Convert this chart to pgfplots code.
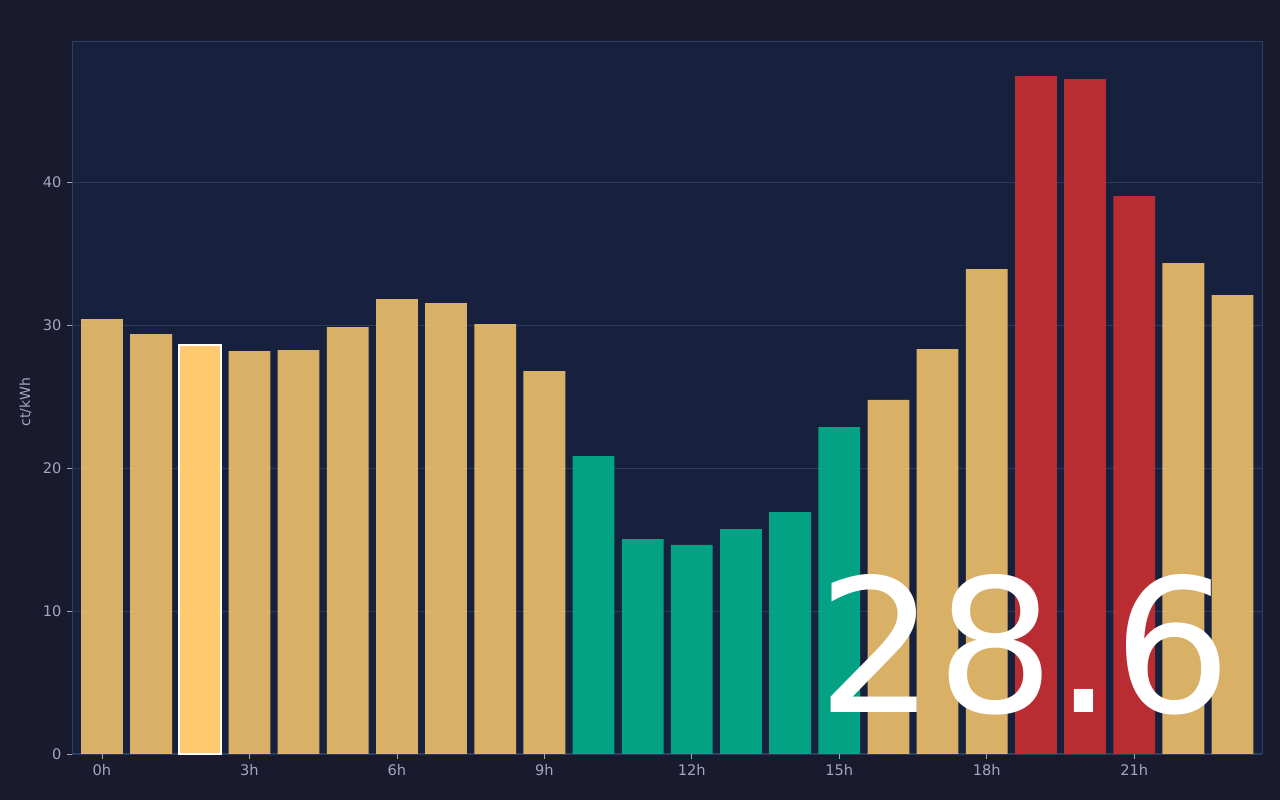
\documentclass[border=0pt]{standalone}
\usepackage{fontspec}
\setmainfont{DejaVu Sans}
\usepackage{pgfplots}
\pgfplotsset{compat=1.18}
\definecolor{outerbg}{HTML}{1A1A2E}
\definecolor{plotbg}{HTML}{17213D}
\definecolor{spine}{HTML}{2F4066}
\definecolor{gridc}{HTML}{2C3A5C}
\definecolor{tickc}{HTML}{A4A4C4}
\definecolor{gold}{HTML}{EFC16B}
\definecolor{hilite}{HTML}{FFC96F}
\definecolor{teal}{HTML}{01B18D}
\definecolor{redb}{HTML}{CA2E31}
\begin{document}
\begin{tikzpicture}[x=1pt,y=1pt]
\fill[outerbg] (0,0) rectangle (1280,800);
\begin{axis}[
  at={(72pt,46pt)}, anchor=south west,
  scale only axis, width=1190pt, height=712pt,
  xmin=-0.61, xmax=23.60, ymin=0, ymax=49.8,
  axis background/.style={fill=plotbg},
  axis line style={draw=spine, line width=1pt},
  xtick={0,3,6,9,12,15,18,21},
  xticklabels={0h,3h,6h,9h,12h,15h,18h,21h},
  ytick={0,10,20,30,40},
  ymajorgrids, grid style={draw=gridc, line width=0.8pt},
  tick style={draw=tickc, line width=0.8pt},
  major tick length=5pt,
  tick align=outside, xtick pos=bottom, ytick pos=left,
  ticklabel style={font=\fontsize{14.6}{14.6}\selectfont, text=tickc},
  /pgf/number format/assume math mode=true,
  xticklabel style={yshift=-2pt},
  yticklabel style={xshift=-2pt},
  clip=false,
]
\addplot[ybar, bar width=0.85, bar shift=0pt, fill=gold, fill opacity=0.9, draw=none] coordinates {
(0,30.42) (1,29.37) (3,28.18) (4,28.25) (5,29.86) (6,31.82) (7,31.54) (8,30.07) (9,26.78)
(16,24.76) (17,28.32) (18,33.92) (22,34.34) (23,32.10)};
\addplot[ybar, bar width=0.85, bar shift=0pt, fill=teal, fill opacity=0.9, draw=none] coordinates {
(10,20.84) (11,15.03) (12,14.62) (13,15.73) (14,16.92) (15,22.87)};
\addplot[ybar, bar width=0.85, bar shift=0pt, fill=redb, fill opacity=0.9, draw=none] coordinates {
(19,47.41) (20,47.20) (21,39.02)};
\addplot[ybar, bar width=0.85, bar shift=0pt, fill=hilite, draw=white, line width=2pt] coordinates {
(2,28.62)};
\end{axis}
\node[rotate=90, text=tickc, inner sep=0pt, font=\fontsize{14}{14}\selectfont] at (25.5,398) {ct/kWh};
\node[anchor=base, text=white, inner sep=0pt, font=\fontsize{186}{186}\selectfont] at (1025,87) {28.6};
\end{tikzpicture}
\end{document}
